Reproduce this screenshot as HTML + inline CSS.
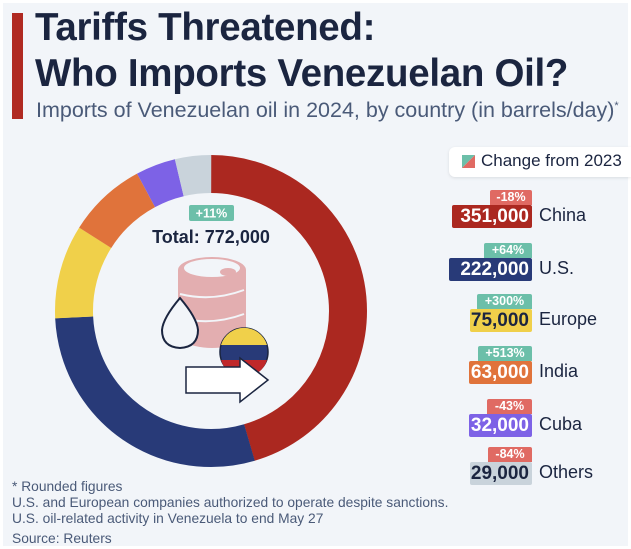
<!DOCTYPE html>
<html><head><meta charset="utf-8"><style>
body{margin:0;width:631px;height:549px;background:#fff;font-family:"Liberation Sans","DejaVu Sans",sans-serif;overflow:hidden}
#p{position:absolute;left:3px;top:3px;width:625px;height:543px;background:#f2f5f9}
.a{position:absolute;white-space:nowrap}
.t{left:35px;font-weight:bold;font-size:38.5px;color:#1b2540;letter-spacing:-0.3px}
.v{position:absolute;height:23px;line-height:23px;font-weight:bold;font-size:19px;color:#fff;text-align:right;padding-right:3px;box-sizing:border-box;border-radius:2px}
.c{position:absolute;height:15px;line-height:15px;font-weight:bold;font-size:12.5px;color:#fff;text-align:center;border-radius:2px 2px 0 0}
.l{position:absolute;left:539px;font-size:18px;color:#1b2540}
.f{position:absolute;left:12px;font-size:13.8px;color:#4a5a78}
</style></head><body><div id="p"></div>
<div class="a" style="left:12px;top:13px;width:11px;height:106px;background:#b02a22"></div>
<div class="a t" style="top:6px">Tariffs Threatened:</div>
<div class="a t" style="top:52px">Who Imports Venezuelan Oil?</div>
<div class="a" style="left:36px;top:98px;font-size:21.5px;color:#4a5a78">Imports of Venezuelan oil in 2024, by country (in barrels/day)<sup style="font-size:11px">*</sup></div>
<svg class="a" style="left:0;top:0" width="631" height="549">
<g transform="translate(211,311)" fill="none" stroke-width="38">
<circle r="137" stroke="#ab2820" stroke-dasharray="391.4 1000" transform="rotate(-90)"/>
<circle r="137" stroke="#283a78" stroke-dasharray="247.7 1000" transform="rotate(73.7)"/>
<circle r="137" stroke="#f0d04a" stroke-dasharray="83.7 1000" transform="rotate(177.3)"/>
<circle r="137" stroke="#e0733b" stroke-dasharray="70.3 1000" transform="rotate(212.3)"/>
<circle r="137" stroke="#7d62e6" stroke-dasharray="35.7 1000" transform="rotate(241.7)"/>
<circle r="137" stroke="#c9d3db" stroke-dasharray="32.3 1000" transform="rotate(256.6)"/>
</g>
<rect x="189" y="205" width="45" height="16" rx="2" fill="#6cbfa9"/>
<text x="211.5" y="217.5" fill="#fff" font-size="12.5" font-weight="bold" text-anchor="middle">+11%</text>
<text x="211" y="243" fill="#1b2540" font-size="18" font-weight="bold" text-anchor="middle">Total: 772,000</text>
<path d="M178 270 L178 340 Q212 356 246 340 L246 270 Z" fill="#e3aeb0"/>
<ellipse cx="212" cy="270" rx="34" ry="13" fill="#e3aeb0"/>
<ellipse cx="212" cy="268" rx="28" ry="9" fill="#f2f5f9"/>
<ellipse cx="228" cy="272" rx="8" ry="4" fill="#e3aeb0"/>
<path d="M180 294 Q212 302 244 290 M180 318 Q212 326 244 314" stroke="#f2f5f9" stroke-width="2" fill="none"/>
<path d="M180 298 Q163 318 162 330 Q162 347 180 348 Q198 347 198 330 Q197 318 180 298 Z" fill="#f2f5f9" stroke="#1b2540" stroke-width="2"/>
<circle cx="244" cy="352" r="24" fill="#283a78" stroke="#1b2540" stroke-width="1.5"/>
<path d="M221 345 A24 24 0 0 1 267 345 Z" fill="#f0d04a"/>
<path d="M221 360 L267 360 A24 24 0 0 1 221 360 Z" fill="#c0282a"/>
<path d="M186 367 L240 367 L240 358 L268 380 L240 402 L240 393 L186 393 Z" fill="#fff" stroke="#1b2540" stroke-width="1.5"/>
</svg>
<div class="a" style="left:449px;top:147px;width:182px;height:30px;background:#fff;border-radius:6px 0 0 6px;box-shadow:0 1px 3px rgba(0,0,0,.1)"></div>
<svg class="a" style="left:462px;top:155px" width="13" height="13"><path d="M0 0H13L0 13Z" fill="#6cbfa9"/><path d="M13 0V13H0Z" fill="#e06a63"/></svg>
<div class="a" style="left:481px;top:151px;font-size:17px;color:#1b2540">Change from 2023</div>

<div class="c" style="left:490px;top:190px;width:42px;background:#e06a63">-18%</div>
<div class="v" style="left:452px;top:205px;width:80px;background:#ab2820">351,000</div>
<div class="l" style="top:205px">China</div>
<div class="c" style="left:484px;top:243px;width:48px;background:#6cbfa9">+64%</div>
<div class="v" style="left:449px;top:258px;width:83px;background:#283a78">222,000</div>
<div class="l" style="top:258px">U.S.</div>
<div class="c" style="left:477px;top:294px;width:55px;background:#6cbfa9">+300%</div>
<div class="v" style="left:470px;top:309px;width:62px;background:#f0d04a;color:#1b2540">75,000</div>
<div class="l" style="top:309px">Europe</div>
<div class="c" style="left:478px;top:346px;width:54px;background:#6cbfa9">+513%</div>
<div class="v" style="left:469px;top:361px;width:63px;background:#e0733b">63,000</div>
<div class="l" style="top:361px">India</div>
<div class="c" style="left:487px;top:399px;width:45px;background:#e06a63">-43%</div>
<div class="v" style="left:469px;top:414px;width:63px;background:#7d62e6">32,000</div>
<div class="l" style="top:414px">Cuba</div>
<div class="c" style="left:488px;top:447px;width:44px;background:#e06a63">-84%</div>
<div class="v" style="left:470px;top:462px;width:62px;background:#c9d3db;color:#1b2540">29,000</div>
<div class="l" style="top:462px">Others</div>

<div class="f" style="top:479px">* Rounded figures</div>
<div class="f" style="top:495px">U.S. and European companies authorized to operate despite sanctions.</div>
<div class="f" style="top:511px">U.S. oil-related activity in Venezuela to end May 27</div>
<div class="f" style="top:531px">Source: Reuters</div>
</body></html>
